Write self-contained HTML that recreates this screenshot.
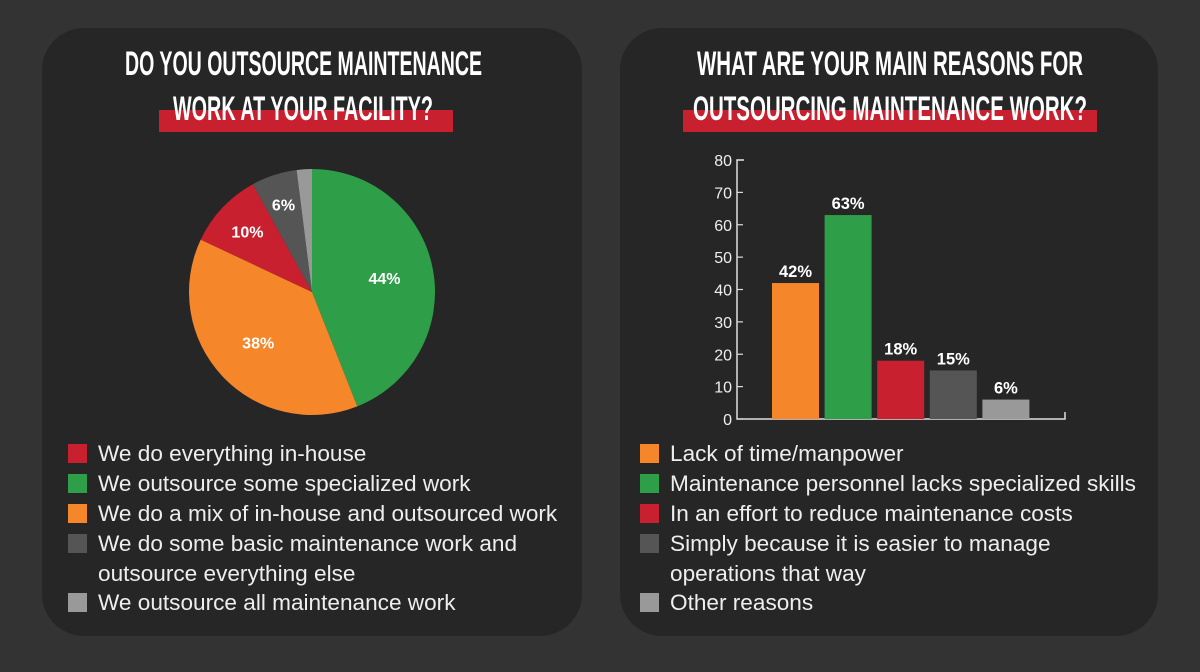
<!DOCTYPE html>
<html><head><meta charset="utf-8"><style>
body{margin:0;width:1200px;height:672px;background:#333;overflow:hidden;font-family:"Liberation Sans",sans-serif}
.panel{position:absolute;top:28px;height:608px;background:#262626;border-radius:42px}
.tl{position:absolute;white-space:nowrap;color:#fff;font-family:"Liberation Sans",sans-serif;font-weight:bold;font-size:34px;line-height:34px;transform-origin:0 0}
.hl{position:absolute;background:#c9202f;height:22px;top:82px}
.leg{position:absolute;color:#eee;font-size:22.6px;line-height:29.5px;white-space:nowrap}
.leg .sw{position:absolute;left:-30px;width:19px;height:19px;top:5px}
</style></head><body>
<div class="panel" style="left:42px;width:540px">
 <div class="hl" style="left:117px;width:294px"></div>
 <div class="tl" data-x="83" data-w="357" style="top:19px">DO YOU OUTSOURCE MAINTENANCE</div>
 <div class="tl" data-x="131" data-w="260" style="top:64px">WORK AT YOUR FACILITY?</div>
 <svg id="pie" width="540" height="608" style="position:absolute;left:0;top:0"></svg>
 <div>
  <div class="leg" style="left:56px;top:411px"><span class="sw" style="background:#c9202f"></span>We do everything in-house</div>
  <div class="leg" style="left:56px;top:441px"><span class="sw" style="background:#2e9e48"></span>We outsource some specialized work</div>
  <div class="leg" style="left:56px;top:471px"><span class="sw" style="background:#f5862a"></span>We do a mix of in-house and outsourced work</div>
  <div class="leg" style="left:56px;top:501px"><span class="sw" style="background:#555"></span>We do some basic maintenance work and<br>outsource everything else</div>
  <div class="leg" style="left:56px;top:560px"><span class="sw" style="background:#999"></span>We outsource all maintenance work</div>
 </div>
</div>
<div class="panel" style="left:620px;width:538px">
 <div class="hl" style="left:63px;width:414px"></div>
 <div class="tl" data-x="77" data-w="386" style="top:19px">WHAT ARE YOUR MAIN REASONS FOR</div>
 <div class="tl" data-x="73" data-w="394" style="top:64px">OUTSOURCING MAINTENANCE WORK?</div>
 <div>
  <div class="leg" style="left:50px;top:411px"><span class="sw" style="background:#f5862a"></span>Lack of time/manpower</div>
  <div class="leg" style="left:50px;top:441px"><span class="sw" style="background:#2e9e48"></span>Maintenance personnel lacks specialized skills</div>
  <div class="leg" style="left:50px;top:471px"><span class="sw" style="background:#c9202f"></span>In an effort to reduce maintenance costs</div>
  <div class="leg" style="left:50px;top:501px"><span class="sw" style="background:#555"></span>Simply because it is easier to manage<br>operations that way</div>
  <div class="leg" style="left:50px;top:560px"><span class="sw" style="background:#999"></span>Other reasons</div>
 </div>
</div>
<svg id="bar" width="1200" height="672" style="position:absolute;left:0;top:0"></svg>
<script>
const pieLabels=["We outsource some specialized work","We do a mix","We do everything in-house","Basic maintenance","Outsource all"];
const pieValues=[44,38,10,6,2];
const pieColors=["#2e9e48","#f5862a","#c9202f","#555555","#999999"];
const barCats=["Lack of time","Lacks skills","Reduce costs","Easier","Other"];
const barValues=[42,63,18,15,6];
const barColors=["#f5862a","#2e9e48","#c9202f","#555555","#999999"];
const yTicks=[0,10,20,30,40,50,60,70,80];
const NS="http://www.w3.org/2000/svg";
document.querySelectorAll('.tl').forEach(el=>{
 const w=el.getBoundingClientRect().width;
 el.style.left=el.dataset.x+'px';
 el.style.transform='scaleX('+(el.dataset.w/w)+')';
});
function mk(p,t,a){const e=document.createElementNS(NS,t);for(const k in a)e.setAttribute(k,a[k]);p.appendChild(e);return e;}
const pie=document.getElementById('pie');
const cx=270,cy=264,r=123;
const total=pieValues.reduce((a,b)=>a+b,0);
let ang=0;
pieValues.forEach((v,i)=>{
 const a0=ang,a1=ang+v/total*2*Math.PI;ang=a1;
 const x0=cx+r*Math.sin(a0),y0=cy-r*Math.cos(a0),x1=cx+r*Math.sin(a1),y1=cy-r*Math.cos(a1);
 const p=mk(pie,'path',{d:`M${cx},${cy}L${x0},${y0}A${r},${r} 0 ${a1-a0>Math.PI?1:0} 1 ${x1},${y1}Z`,fill:pieColors[i]});
 
 
 if(v>=5){const m=(a0+a1)/2,lr=r*(v<8?0.75:v<15?0.72:0.6);
  const t=mk(pie,'text',{x:cx+lr*Math.sin(m),y:cy-lr*Math.cos(m)+6,'text-anchor':'middle',fill:'#fff','font-size':'16','font-weight':'bold','font-family':'Liberation Sans, sans-serif'});
  t.textContent=v+'%';
  
  }
});
const bar=document.getElementById('bar');
const x0=737,y0=419,yMax=80,ph=259;
const ys=v=>y0-v/yMax*ph;
const bw=47,step=52.6,bx0=772;
mk(bar,'path',{d:`M${x0+7},${ys(80)}H${x0}V${y0}H1065V${y0-7}`,stroke:'#ddd','stroke-width':1.5,fill:'none'});
yTicks.forEach(t=>{
 mk(bar,'line',{x1:x0,x2:x0+6,y1:ys(t),y2:ys(t),stroke:'#ddd','stroke-width':1.2});
 const tx=mk(bar,'text',{x:x0-5,y:ys(t)+6,'text-anchor':'end',fill:'#eee','font-size':'16','font-family':'Liberation Sans, sans-serif'});
 tx.textContent=t;
 
 
});
barValues.forEach((v,i)=>{
 const x=bx0+i*step;
 const b=mk(bar,'rect',{x:x,y:ys(v),width:bw,height:y0-ys(v),fill:barColors[i]});
 
 
 const t=mk(bar,'text',{x:x+bw/2,y:ys(v)-6,'text-anchor':'middle',fill:'#fff','font-size':'16.5','font-weight':'bold','font-family':'Liberation Sans, sans-serif'});
 t.textContent=v+'%';
 
 
});
</script>
</body></html>
